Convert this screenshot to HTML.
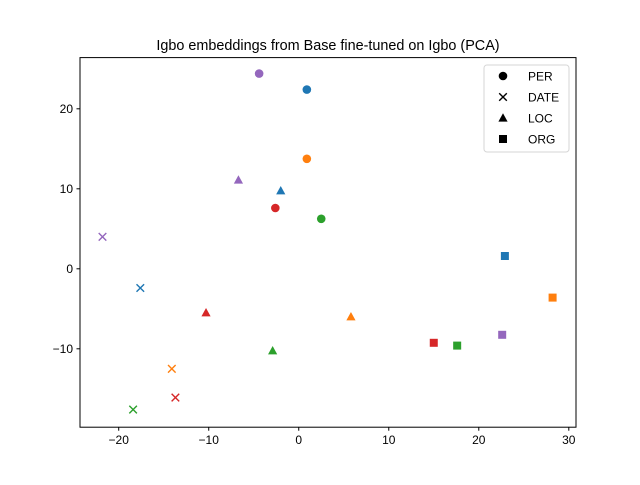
<!DOCTYPE html>
<html><head><meta charset="utf-8"><style>
body{margin:0;background:#fff;}
svg text{font-family:"Liberation Sans","DejaVu Sans",sans-serif;}
</style></head><body>
<svg id="chart" width="640" height="480" viewBox="0 0 640 480" xmlns="http://www.w3.org/2000/svg">
<rect width="640" height="480" fill="#fff"/>
<text x="328" y="50" text-anchor="middle" font-size="14.4">Igbo embeddings from Base fine-tuned on Igbo (PCA)</text>
<g id="ticks"></g>
<g id="marks"></g>
<rect x="80" y="57.6" width="496" height="369.6" fill="none" stroke="#000" stroke-width="1"/>
<g id="legend"></g>
</svg>
<script>
const colors = ["#1f77b4","#ff7f0e","#2ca02c","#d62728","#9467bd"];
const colorNames = ["blue","orange","green","red","purple"];
const categories = ["PER","DATE","LOC","ORG"];
// x values per category, ordered by color (blue, orange, green, red, purple)
const perX = [0.9, 0.9, 2.5, -2.6, -4.4];
const perY = [22.4, 13.75, 6.25, 7.6, 24.4];
const dateX = [-17.6, -14.1, -18.4, -13.7, -21.8];
const dateY = [-2.4, -12.5, -17.6, -16.1, 4.0];
const locX = [-2.0, 5.8, -2.9, -10.3, -6.7];
const locY = [9.75, -6.0, -10.25, -5.5, 11.1];
const orgX = [22.9, 28.2, 17.6, 15.0, 22.6];
const orgY = [1.6, -3.6, -9.6, -9.25, -8.25];
const xTicks = [-20, -10, 0, 10, 20, 30];
const yTicks = [-10, 0, 10, 20];
const xTickLabels = ["\u221220","\u221210","0","10","20","30"];
const yTickLabels = ["\u221210","0","10","20"];

const NS = "http://www.w3.org/2000/svg";
const X0 = 80, X1 = 576, Y0 = 57.6, Y1 = 427.2;
const xMin = -24.3, xMax = 30.8, yMin = -19.8, yMax = 26.4;
function sx(v){ return X0 + (v - xMin) / (xMax - xMin) * (X1 - X0); }
function sy(v){ return Y1 - (v - yMin) / (yMax - yMin) * (Y1 - Y0); }
function mk(tag, attrs, parent){
  const e = document.createElementNS(NS, tag);
  for (const k in attrs) e.setAttribute(k, attrs[k]);
  parent.appendChild(e); return e;
}
const ticks = document.getElementById("ticks");
xTicks.forEach((t,i)=>{
  const x = sx(t);
  const l = mk("line",{x1:x,x2:x,y1:Y1,y2:Y1+3.5,stroke:"#000"},ticks);
  
  
  const tx = mk("text",{x:x,y:Y1+17,"text-anchor":"middle","font-size":"12"},ticks);
  
  
  tx.textContent = xTickLabels[i];
});
yTicks.forEach((t,i)=>{
  const y = sy(t);
  const l = mk("line",{x1:X0-3.5,x2:X0,y1:y,y2:y,stroke:"#000"},ticks);
  
  
  const tx = mk("text",{x:X0-7,y:y+4.3,"text-anchor":"end","font-size":"12"},ticks);
  
  
  tx.textContent = yTickLabels[i];
});
function marker(type, cx, cy, color, parent){
  let e;
  if (type === "PER") e = mk("circle",{cx:cx,cy:cy,r:4.3,fill:color},parent);
  else if (type === "ORG") e = mk("rect",{x:cx-4,y:cy-4,width:8,height:8,fill:color},parent);
  else if (type === "LOC") e = mk("polygon",{points:`${cx},${cy-4.8} ${cx-4.6},${cy+3.6} ${cx+4.6},${cy+3.6}`,fill:color},parent);
  else e = mk("path",{d:`M${cx-3.8},${cy-3.8}L${cx+3.8},${cy+3.8}M${cx-3.8},${cy+3.8}L${cx+3.8},${cy-3.8}`,stroke:color,"stroke-width":1.4,fill:"none"},parent);
  return e;
}
const marks = document.getElementById("marks");
const seriesX = [perX, dateX, locX, orgX];
const seriesY = [perY, dateY, locY, orgY];
categories.forEach((cat, ci)=>{
  seriesX[ci].forEach((xv, i)=>{
    const e = marker(cat, sx(xv), sy(seriesY[ci][i]), colors[i], marks);
    
    
  });
});
const legend = document.getElementById("legend");


const box = mk("rect",{x:484,y:65,width:85,height:87,rx:3,fill:"#fff",stroke:"#ccc","stroke-opacity":0.8},legend);


categories.forEach((cat,i)=>{
  const y = 76 + i*21;
  const m = marker(cat, 503, y, "#000", legend);
  
  
  const t = mk("text",{x:528,y:y+4.5,"font-size":"12"},legend);
  
  
  t.textContent = cat;
});
</script>
</body></html>
